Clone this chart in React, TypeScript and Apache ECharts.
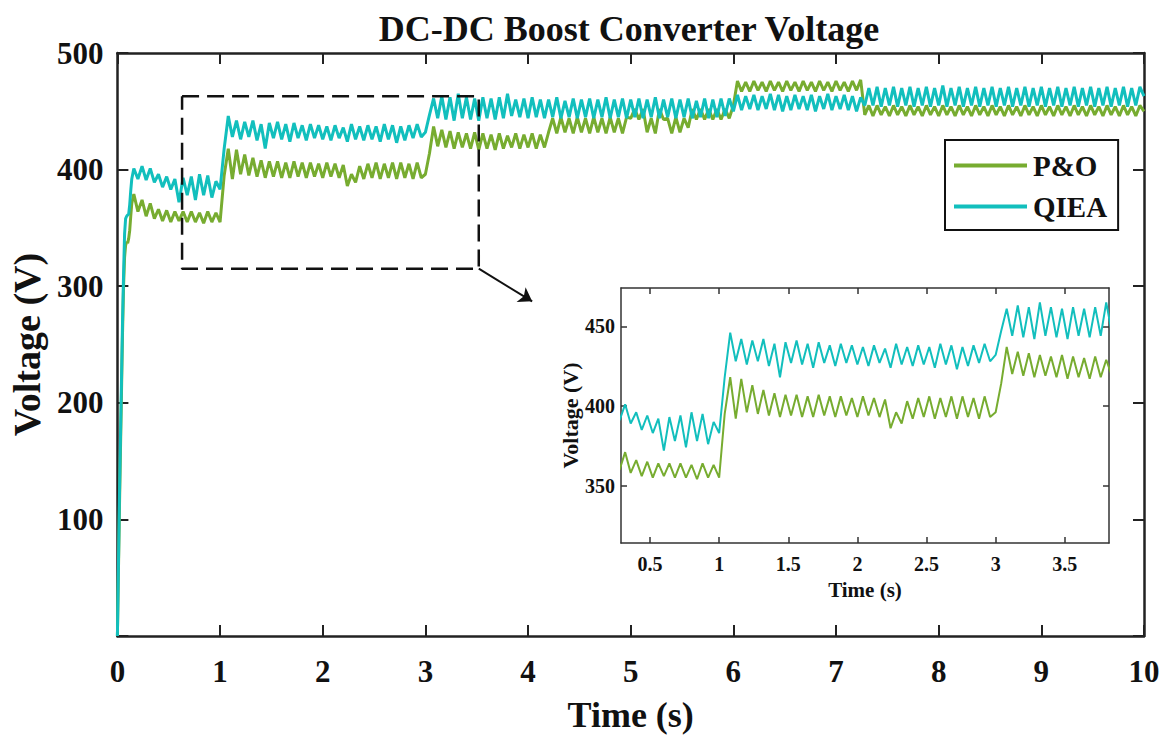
import React, { useEffect, useRef } from "react";
import * as echarts from "echarts";

const FONT = '"Liberation Serif", "Times New Roman", serif';
const GREEN = "#77AC30";
const CYAN = "#12BFBD";
const AXIS = "#222222";

// Start-up transient (time in s, voltage in V)
const startT = [0, 0.02, 0.04, 0.05, 0.06, 0.07, 0.08, 0.09, 0.1, 0.11, 0.12, 0.13, 0.14];
const startQIEA = [0, 120, 220, 270, 310, 345, 358, 360, 361, 362, 370, 382, 392];
const startPO = [0, 110, 210, 260, 300, 325, 335, 338, 337, 341, 348, 360, 371];

// Ripple section: samples every 0.04 s from 0.16 s to 10 s
const rippleStart = 0.16;
const rippleStep = 0.04;

const rippleQIEA = [
  401, 392, 403, 391, 401, 389, 396, 385, 394, 383,
  392, 372, 393, 378, 394, 374, 396, 378, 395, 376,
  390, 383, 418, 446, 428, 442, 426, 441, 428, 442,
  425, 439, 418, 440, 427, 441, 426, 439, 424, 440,
  427, 438, 425, 439, 427, 438, 426, 437, 425, 438,
  427, 436, 424, 439, 426, 437, 425, 438, 426, 437,
  424, 439, 426, 438, 423, 437, 425, 438, 427, 439,
  428, 432, 447, 461, 444, 463, 443, 462, 442, 465,
  444, 462, 443, 461, 442, 462, 444, 461, 443, 462,
  444, 465, 446, 460, 445, 461, 444, 462, 445, 460,
  444, 460, 445, 462, 444, 459, 445, 461, 444, 460,
  445, 461, 444, 460, 445, 462, 444, 460, 445, 461,
  444, 460, 445, 461, 444, 460, 445, 462, 444, 460,
  445, 461, 444, 460, 445, 461, 444, 459, 445, 461,
  444, 460, 445, 461, 446, 461, 450, 464, 451, 463,
  452, 464, 451, 463, 452, 465, 451, 464, 450, 463,
  451, 464, 452, 463, 451, 464, 450, 463, 452, 465,
  451, 463, 452, 464, 451, 463, 450, 462, 455, 470,
  455, 471, 454, 470, 455, 471, 454, 470, 455, 471,
  454, 470, 455, 471, 454, 470, 455, 472, 454, 470,
  455, 471, 454, 470, 455, 471, 454, 470, 455, 471,
  454, 470, 455, 471, 454, 470, 455, 471, 454, 470,
  455, 471, 454, 470, 455, 471, 454, 470, 455, 471,
  454, 470, 455, 471, 454, 470, 455, 471, 454, 470,
  455, 471, 454, 470, 455, 471, 463,
];

const ripplePO = [
  379, 364, 374, 360, 371, 358, 366, 356, 365, 355,
  364, 356, 364, 355, 364, 355, 363, 354, 364, 355,
  363, 355, 395, 418, 392, 417, 396, 413, 395, 410,
  394, 408, 393, 407, 394, 407, 393, 406, 393, 407,
  394, 406, 393, 406, 394, 405, 393, 406, 394, 405,
  393, 404, 386, 396, 389, 403, 392, 405, 393, 406,
  392, 405, 393, 406, 392, 406, 393, 405, 392, 406,
  393, 396, 414, 437, 420, 434, 419, 433, 418, 432,
  419, 431, 418, 432, 417, 431, 418, 430, 417, 431,
  418, 429, 419, 431, 418, 430, 419, 431, 418, 430,
  419, 432, 444, 431, 445, 432, 444, 431, 445, 432,
  444, 431, 445, 432, 444, 431, 445, 432, 444, 431,
  445, 444, 452, 443, 452, 432, 444, 431, 452, 443,
  444, 431, 445, 432, 444, 436, 452, 443, 452, 443,
  452, 443, 452, 443, 452, 444, 455, 476, 467, 475,
  467, 476, 468, 475, 467, 476, 468, 475, 467, 476,
  468, 475, 467, 476, 468, 475, 467, 476, 468, 475,
  467, 476, 468, 475, 467, 476, 468, 477, 447, 455,
  446, 455, 447, 454, 446, 455, 447, 454, 446, 455,
  447, 454, 446, 455, 447, 454, 446, 455, 447, 454,
  446, 455, 447, 454, 446, 455, 447, 454, 446, 455,
  447, 454, 446, 455, 447, 454, 446, 455, 447, 454,
  446, 455, 447, 454, 446, 455, 447, 454, 446, 455,
  447, 454, 446, 455, 447, 454, 446, 455, 447, 454,
  446, 455, 447, 454, 446, 455, 450,
];

const mainXTicks = [0, 10, 1];
const mainYTicks = [0, 500, 100];
const insetXRange = [0.29, 3.82];
const insetYRange = [314, 474];
const insetXTicks = [0.5, 1, 1.5, 2, 2.5, 3, 3.5];
const insetYTicks = [350, 400, 450];

// zoom window (time, voltage) and arrow end
const zoomBoxT = [0.63, 3.52, 3.52, 0.63, 0.63];
const zoomBoxV = [463, 463, 315, 315, 463];
const arrowFrom = [3.52, 315];
const arrowTo = [4.04, 287];

const seriesNames = ["P&O", "QIEA"];

function buildPairs(startTimes: number[], startVals: number[], ripple: number[]) {
  const out: number[][] = startTimes.map((t, i) => [t, startVals[i]]);
  ripple.forEach((v, k) => {
    out.push([+(rippleStart + rippleStep * k).toFixed(2), v]);
  });
  return out;
}

export default function App() {
  const ref = useRef<HTMLDivElement>(null);

  useEffect(() => {
    if (!ref.current) return;
    const chart = echarts.init(ref.current, null, { renderer: "svg" });
    const poData = buildPairs(startT, startPO, ripplePO);
    const qData = buildPairs(startT, startQIEA, rippleQIEA);
    const boxData = zoomBoxT.map((t, i) => [t, zoomBoxV[i]]);

    const bold = (size: number) => ({
      fontFamily: FONT,
      fontWeight: "bold" as const,
      fontSize: size,
      color: "#111",
    });

    const mainAxisLine = { show: true, onZero: false, lineStyle: { color: AXIS, width: 2.5 } };
    const mainTick = { show: true, inside: true, length: 11, lineStyle: { color: AXIS, width: 2 } };
    const insetAxisLine = { show: true, onZero: false, lineStyle: { color: "#333", width: 1.5 } };
    const insetTickX = { show: true, inside: true, length: 6, customValues: insetXTicks, lineStyle: { color: "#333", width: 1.5 } };
    const insetTickY = { show: true, inside: true, length: 6, customValues: insetYTicks, lineStyle: { color: "#333", width: 1.5 } };

    const option: any = {
      animation: false,
      backgroundColor: "#ffffff",
      graphic: [
        {
          type: "text",
          x: 629,
          y: 29,
          style: {
            text: "DC-DC Boost Converter Voltage",
            font: `bold 36px ${FONT}`,
            fill: "#111",
            align: "center",
            verticalAlign: "middle",
          },
        },
      ],
      legend: {
        data: seriesNames,
        orient: "vertical",
        left: 945,
        top: 140,
        icon: "rect",
        itemWidth: 73,
        itemHeight: 4,
        itemGap: 12,
        padding: [11, 11, 9, 9],
        borderColor: "#111",
        borderWidth: 2,
        backgroundColor: "#fff",
        textStyle: { ...bold(29), padding: [0, 0, 0, 1] },
      },
      grid: [
        { left: 115, top: 53, width: 1029, height: 584 },
        { left: 621, top: 288, width: 488, height: 255, show: true, backgroundColor: "#fff", borderWidth: 0 },
      ],
      xAxis: [
        {
          type: "value", gridIndex: 0, position: "bottom",
          min: mainXTicks[0], max: mainXTicks[1], interval: mainXTicks[2],
          axisLine: mainAxisLine, axisTick: mainTick, splitLine: { show: false },
          axisLabel: { ...bold(31), margin: 20 },
          name: "Time (s)", nameLocation: "middle", nameGap: 61, nameTextStyle: bold(36),
        },
        {
          type: "value", gridIndex: 0, position: "top",
          min: mainXTicks[0], max: mainXTicks[1], interval: mainXTicks[2],
          axisLine: mainAxisLine, axisTick: mainTick, splitLine: { show: false },
          axisLabel: { show: false },
        },
        {
          type: "value", gridIndex: 1, position: "bottom",
          min: insetXRange[0], max: insetXRange[1],
          axisLine: insetAxisLine, axisTick: insetTickX, splitLine: { show: false },
          axisLabel: { ...bold(20), margin: 11, customValues: insetXTicks },
          name: "Time (s)", nameLocation: "middle", nameGap: 36, nameTextStyle: bold(21),
        },
        {
          type: "value", gridIndex: 1, position: "top",
          min: insetXRange[0], max: insetXRange[1],
          axisLine: insetAxisLine, axisTick: insetTickX, splitLine: { show: false },
          axisLabel: { show: false },
        },
      ],
      yAxis: [
        {
          type: "value", gridIndex: 0, position: "left",
          min: mainYTicks[0], max: mainYTicks[1], interval: mainYTicks[2],
          axisLine: mainAxisLine, axisTick: mainTick, splitLine: { show: false },
          axisLabel: { ...bold(31), margin: 14, formatter: (v: number) => (v === 0 ? "" : String(v)) },
          name: "Voltage (V)", nameLocation: "middle", nameGap: 63, nameTextStyle: bold(38),
        },
        {
          type: "value", gridIndex: 0, position: "right",
          min: mainYTicks[0], max: mainYTicks[1], interval: mainYTicks[2],
          axisLine: mainAxisLine, axisTick: mainTick, splitLine: { show: false },
          axisLabel: { show: false },
        },
        {
          type: "value", gridIndex: 1, position: "left",
          min: insetYRange[0], max: insetYRange[1],
          axisLine: insetAxisLine, axisTick: insetTickY, splitLine: { show: false },
          axisLabel: { ...bold(20), margin: 6, customValues: insetYTicks },
          name: "Voltage (V)", nameLocation: "middle", nameGap: 40, nameTextStyle: bold(22),
        },
        {
          type: "value", gridIndex: 1, position: "right",
          min: insetYRange[0], max: insetYRange[1],
          axisLine: insetAxisLine, axisTick: insetTickY, splitLine: { show: false },
          axisLabel: { show: false },
        },
      ],
      series: [
        {
          name: seriesNames[0], type: "line", xAxisIndex: 0, yAxisIndex: 0,
          data: poData, showSymbol: false, symbol: "none",
          lineStyle: { color: GREEN, width: 3 }, itemStyle: { color: GREEN }, z: 2,
        },
        {
          name: seriesNames[1], type: "line", xAxisIndex: 0, yAxisIndex: 0,
          data: qData, showSymbol: false, symbol: "none",
          lineStyle: { color: CYAN, width: 3 }, itemStyle: { color: CYAN }, z: 3,
        },
        {
          name: "zoomBox", type: "line", xAxisIndex: 0, yAxisIndex: 0,
          data: boxData, showSymbol: false, symbol: "none", silent: true,
          lineStyle: { color: "#111", width: 2.5, type: [17, 8] }, z: 4,
          markLine: {
            silent: true,
            symbol: ["none", "arrow"],
            symbolSize: 13,
            label: { show: false },
            lineStyle: { color: "#111", width: 2, type: "solid" },
            data: [[{ coord: arrowFrom }, { coord: arrowTo }]],
          },
        },
        {
          name: seriesNames[0], type: "line", xAxisIndex: 2, yAxisIndex: 2,
          data: poData, showSymbol: false, symbol: "none", clip: true,
          lineStyle: { color: GREEN, width: 2 }, itemStyle: { color: GREEN }, z: 6,
        },
        {
          name: seriesNames[1], type: "line", xAxisIndex: 2, yAxisIndex: 2,
          data: qData, showSymbol: false, symbol: "none", clip: true,
          lineStyle: { color: CYAN, width: 2 }, itemStyle: { color: CYAN }, z: 7,
        },
      ],
    };

    chart.setOption(option);
    return () => chart.dispose();
  }, []);

  return (
    <div
      ref={ref}
      style={{ position: "absolute", left: 0, top: 0, width: 1172, height: 738, background: "#fff" }}
    />
  );
}
